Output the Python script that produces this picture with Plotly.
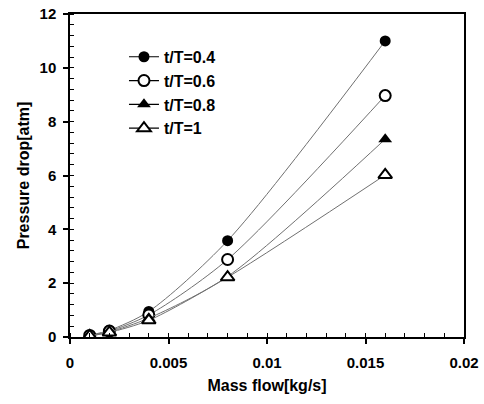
import plotly.graph_objects as go

mass_flow = [0.001, 0.002, 0.004, 0.008, 0.016]
series_names = ["t/T=0.4", "t/T=0.6", "t/T=0.8", "t/T=1"]
dp_04 = [0.07, 0.25, 0.95, 3.58, 11.0]
dp_06 = [0.06, 0.22, 0.82, 2.88, 8.97]
dp_08 = [0.05, 0.19, 0.70, 2.25, 7.35]
dp_10 = [0.04, 0.17, 0.62, 2.22, 6.02]
series_values = [dp_04, dp_06, dp_08, dp_10]
symbols = ["circle", "circle-open", "triangle-up", "triangle-up-open"]
x_ticks = [0, 0.005, 0.01, 0.015, 0.02]
x_tick_text = ["0", "0.005", "0.01", "0.015", "0.02"]
y_ticks = [0, 2, 4, 6, 8, 10, 12]

FONT = "Liberation Sans, Arial, sans-serif"

fig = go.Figure()
for name, vals, sym in zip(series_names, series_values, symbols):
    open_ = "open" in sym
    marker = dict(symbol=sym.replace("-open", ""), size=11 if "circle" in sym else 12,
                  color="white" if open_ else "black",
                  line=dict(color="black", width=2 if open_ else 0))
    fig.add_trace(go.Scatter(
        x=mass_flow, y=vals, name=name, mode="lines+markers", showlegend=False,
        line=dict(color="#707070", width=1, shape="spline", smoothing=0.8),
        marker=marker,
    ))
    # legend entry with a dark line sample, as in the reference legend
    fig.add_trace(go.Scatter(
        x=[None], y=[None], name=name, mode="lines+markers", showlegend=True,
        line=dict(color="black", width=1.2), marker=marker,
    ))

fig.update_layout(
    width=484, height=404,
    margin=dict(l=70, r=20, t=14, b=67, autoexpand=False),
    paper_bgcolor="white", plot_bgcolor="white",
    font=dict(family=FONT, size=15, color="black"),
    showlegend=True,
    legend=dict(x=0.137, y=0.92, xanchor="left", yanchor="top",
                bgcolor="rgba(0,0,0,0)", tracegroupgap=0, itemwidth=30,
                font=dict(family=FONT, size=16, color="black", weight="bold")),
)
fig.update_xaxes(
    range=[0, 0.02], tickvals=x_ticks, ticktext=x_tick_text,
    showgrid=False, zeroline=False, automargin=False,
    showline=True, linecolor="black", linewidth=1.5, mirror=True,
    ticks="outside", ticklen=5, tickcolor="black", tickwidth=1.5,
    ticklabelstandoff=6,
    tickfont=dict(family=FONT, size=15, weight="bold"),
    minor=dict(dtick=0.001, ticks="inside", ticklen=4, tickcolor="black", tickwidth=1, showgrid=False),
    title=dict(text="Mass flow[kg/s]", font=dict(family=FONT, size=16, weight="bold"), standoff=10),
)
fig.update_yaxes(
    range=[0, 12], tickvals=y_ticks,
    showgrid=False, zeroline=False, automargin=False,
    showline=True, linecolor="black", linewidth=1.5, mirror=True,
    ticks="outside", ticklen=5, tickcolor="black", tickwidth=1.5,
    ticklabelstandoff=4,
    tickfont=dict(family=FONT, size=15, weight="bold"),
    minor=dict(dtick=0.4, tick0=0, ticks="inside", ticklen=4, tickcolor="black", tickwidth=1, showgrid=False),
    title=dict(text="Pressure drop[atm]", font=dict(family=FONT, size=16, weight="bold"), standoff=6),
)

fig.write_html("out.html")
